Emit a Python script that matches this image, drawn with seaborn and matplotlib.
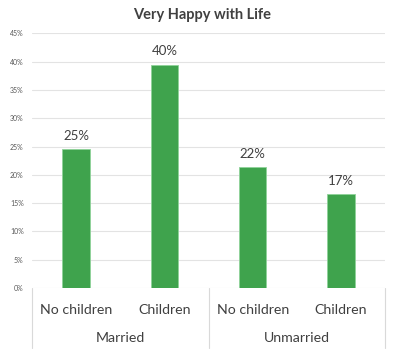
import matplotlib
matplotlib.use("Agg")
import matplotlib.pyplot as plt
import matplotlib.transforms as mtransforms
import seaborn as sns
import pandas as pd

categories = ["No children", "Children", "No children", "Children"]
groups = ["Married", "Unmarried"]
values = [24.6, 39.5, 21.4, 16.6]
value_labels = ["25%", "40%", "22%", "17%"]
yticks = [0, 5, 10, 15, 20, 25, 30, 35, 40, 45]
ytick_labels = ["0%", "5%", "10%", "15%", "20%", "25%", "30%", "35%", "40%", "45%"]
title = "Very Happy with Life"

sns.set_theme(style="white")
plt.rcParams['font.family'] = ['Lato', 'DejaVu Sans']

df = pd.DataFrame({"pos": [f"{g}-{c}" for g, c in zip([groups[0]]*2 + [groups[1]]*2, categories)],
                   "value": values})

fig = plt.figure(figsize=(4.04, 3.56), dpi=100)
ax = fig.add_axes([0.0792, 0.191, 0.874, 0.715])

sns.barplot(data=df, x="pos", y="value", color="#3FA34D", saturation=1,
            width=0.31, ax=ax, edgecolor="#8FD39A", linewidth=0.6)

ax.set_ylim(0, 45)
ax.set_xlim(-0.5, 3.5)
ax.set_yticks(yticks)
ax.set_yticklabels(ytick_labels, fontsize=5, color="#595959")
ax.tick_params(axis="y", length=0, pad=6)
ax.set_xticks([])
ax.set_xlabel("")
ax.set_ylabel("")
for y in yticks:
    ax.axhline(y, color="#E3E3E3", linewidth=0.8, zorder=0)
for s in ax.spines.values():
    s.set_visible(False)

for i, (v, lab) in enumerate(zip(values, value_labels)):
    ax.text(i, v + 1.3, lab, ha="center", va="bottom", fontsize=9.5, color="#404040")

trans = mtransforms.blended_transform_factory(ax.transData, ax.transAxes)
for xsep in [-0.5, 1.5, 3.5]:
    ax.plot([xsep, xsep], [0, -0.235], transform=trans, color="#D9D9D9",
            linewidth=0.8, clip_on=False)
for i, c in enumerate(categories):
    ax.text(i, -0.085, c, transform=trans, ha="center", va="center",
            fontsize=10.2, color="#404040")
for gi, g in enumerate(groups):
    ax.text(gi * 2 + 0.5, -0.197, g, transform=trans, ha="center", va="center",
            fontsize=10.2, color="#404040")

fig.text(0.5, 0.957, title, ha="center", va="center", fontsize=10.5,
         fontweight="bold", color="#404040")

fig.savefig("out.png", dpi=100)
